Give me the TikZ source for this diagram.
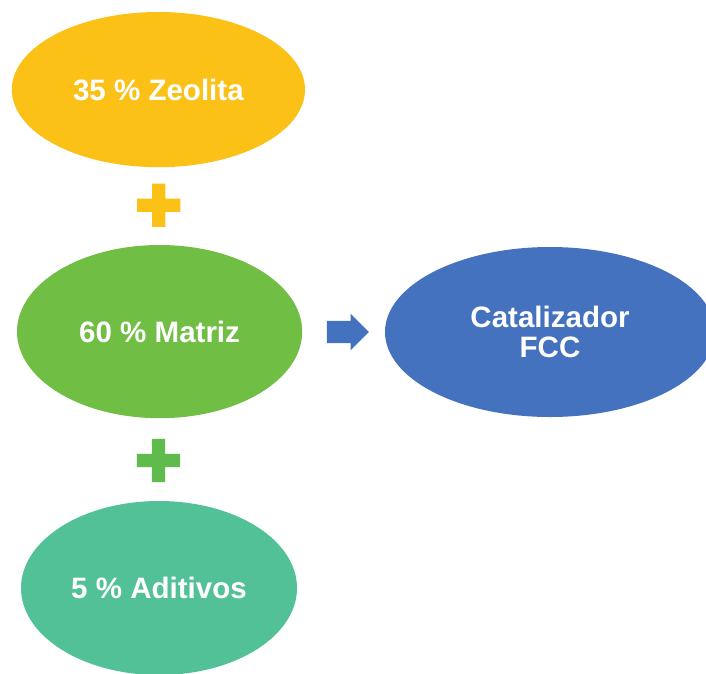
\documentclass[tikz,border=0pt]{standalone}
\usepackage{fontspec}
\setmainfont{Liberation Sans}
\usepackage{xcolor}
\usepackage{tikz}
\usetikzlibrary{shapes.geometric, shapes.arrows}

\definecolor{zeoYellow}{RGB}{252,193,22}
\definecolor{matGreen}{RGB}{113,190,69}
\definecolor{plusGreen}{RGB}{94,187,76}
\definecolor{aditTeal}{RGB}{83,193,151}
\definecolor{fccBlue}{RGB}{68,114,190}

\begin{document}
\begin{tikzpicture}[
    every node/.append style={font=\fontsize{21}{21.3}\selectfont\bfseries, text=white},
    blob/.style={ellipse, inner sep=0pt, align=center},
]
\useasboundingbox (0,0) rectangle (17.65,-16.825);

\node[blob, fill=zeoYellow, minimum width=7.33cm, minimum height=3.88cm] (zeol) at (3.96, -2.24) {35 \% Zeolita};
\node[blob, fill=matGreen, minimum width=7.13cm, minimum height=4.33cm] (matr) at (3.99, -8.29) {60 \% Matriz};
\node[blob, fill=aditTeal, minimum width=6.9cm, minimum height=4.35cm] (adit) at (3.975, -14.7) {5 \% Aditivos};
\node[blob, fill=fccBlue, minimum width=8.25cm, minimum height=4.25cm] (fcc) at (13.75, -8.3) {Catalizador\\FCC};

% plus signs
\coordinate (plusA) at (3.97, -5.13);
\coordinate (plusB) at (3.96, -11.51);
\fill[zeoYellow] (plusA) +(-0.54,-0.165) rectangle +(0.54,0.165) (plusA) +(-0.165,-0.54) rectangle +(0.165,0.54);
\fill[plusGreen] (plusB) +(-0.54,-0.165) rectangle +(0.54,0.165) (plusB) +(-0.165,-0.54) rectangle +(0.165,0.54);

% arrow
\node[single arrow, fill=fccBlue, inner xsep=0pt, inner ysep=0.27cm, minimum height=1.05cm,
      single arrow head extend=0.18cm] (arrw) at (8.56, -8.3) {};

\end{tikzpicture}
\end{document}
